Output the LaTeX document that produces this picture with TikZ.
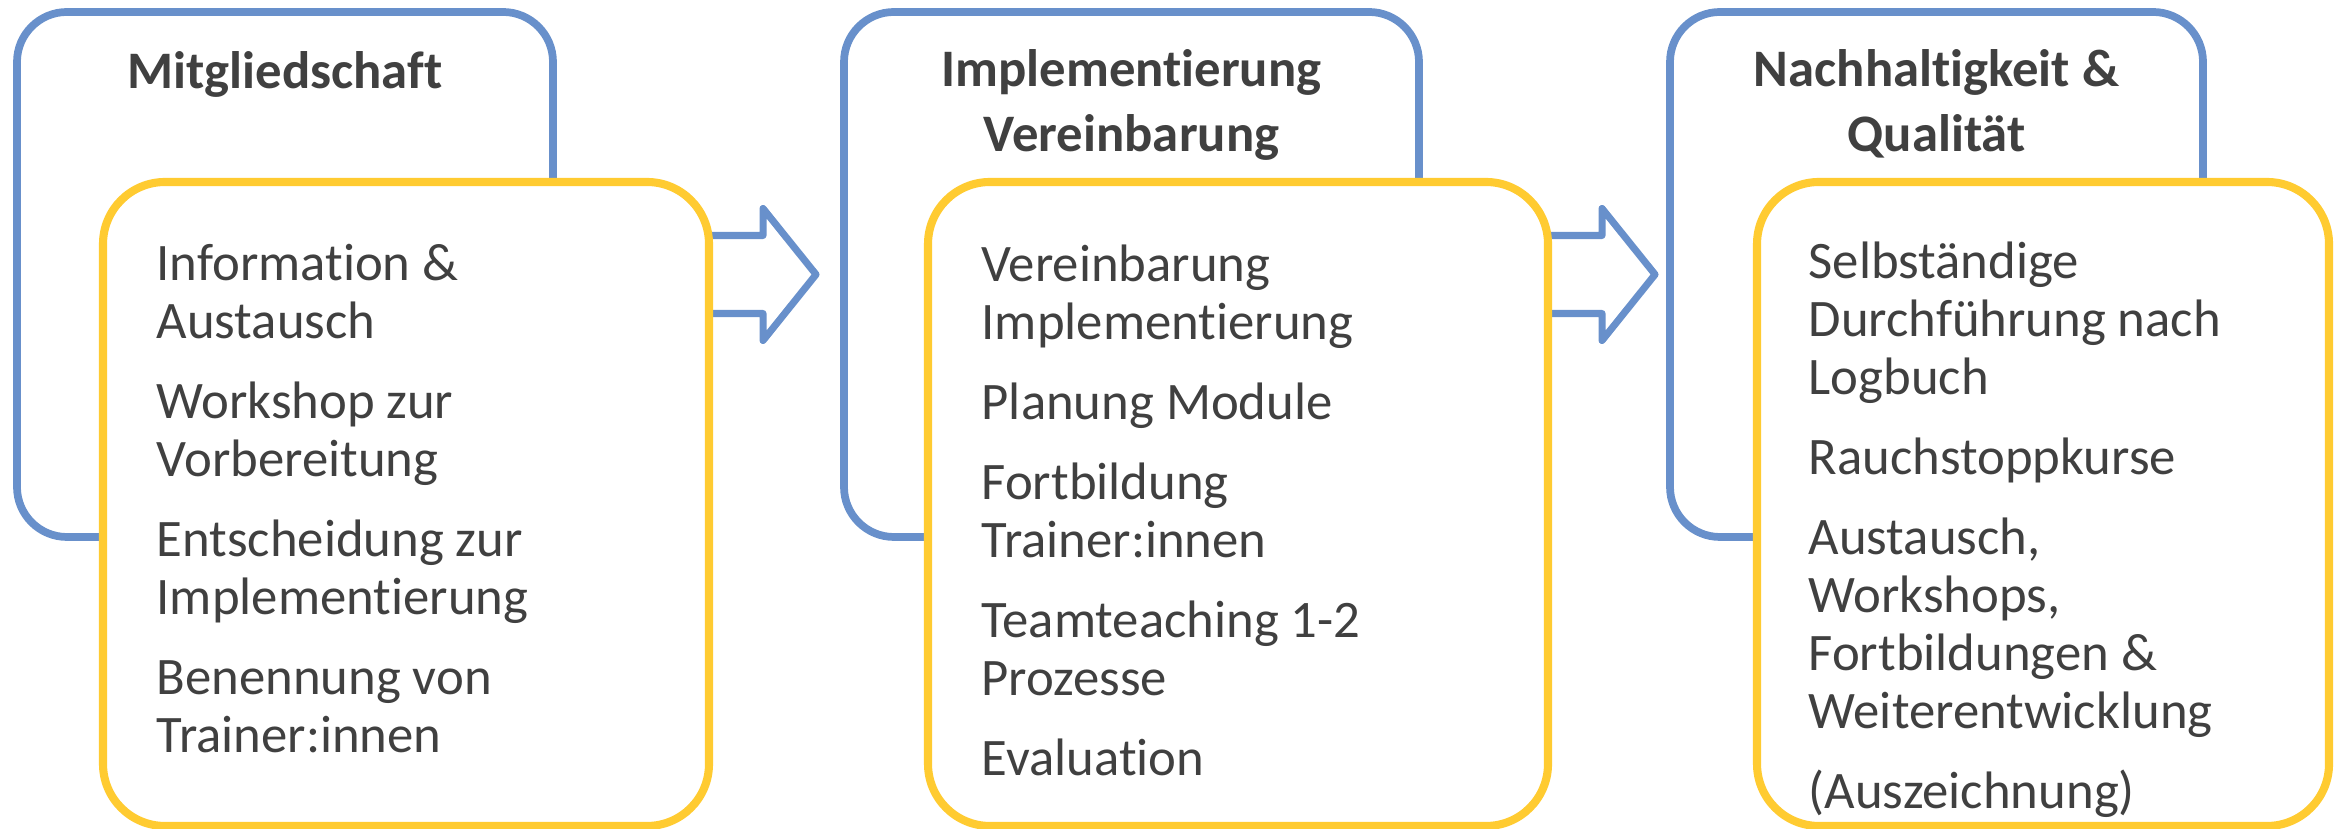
\documentclass[tikz,border=0pt]{standalone}
\usepackage{fontspec}
\setmainfont{Carlito}[Ligatures=NoCommon]
\usepackage{tikz}
\usetikzlibrary{calc,backgrounds}
\definecolor{rahmenblau}{HTML}{6890CB}
\definecolor{rahmengelb}{HTML}{FFCB31}
\definecolor{textgrau}{HTML}{404040}

\begin{document}
\begin{tikzpicture}[
    phase/.style={draw=rahmenblau, line width=2.2pt, rounded corners=0.5cm, fill=white, inner sep=0pt, minimum height=5.25cm},
    inhalt/.style={draw=rahmengelb, line width=2.3pt, rounded corners=0.62cm, fill=white, inner sep=0pt, minimum height=6.44cm},
    pfeil/.style={draw=rahmenblau, line width=2pt, line join=round, fill=white},
    titel/.style={anchor=base, align=center, inner sep=0pt, text=textgrau, font=\fontsize{15}{18.5}\selectfont\bfseries},
    liste/.style={anchor=base west, align=left, inner sep=0pt, text=textgrau, font=\fontsize{15}{16.5}\selectfont}
  ]
  \useasboundingbox (0,0) rectangle (23.44,8.29);
  % blaue Rahmen
  \node[phase, minimum width=5.36cm] (mitglied) at (2.85,5.545) {};
  \node[phase, minimum width=5.75cm] (implement) at (11.315,5.545) {};
  \node[phase, minimum width=5.33cm] (nachhalt) at (19.365,5.545) {};
  % base = letzte Zeile
  \node[titel] (t1) at ($(mitglied.north)+(0,-0.8)$) {Mitgliedschaft};
  \node[titel] (t2) at ($(implement.north)+(0,-1.43)$) {Implementierung\\Vereinbarung};
  \node[titel] (t3) at ($(nachhalt.north)+(0,-1.43)$) {Nachhaltigkeit \&\\Qualität};
  % gelbe Kaesten
  \node[inhalt, minimum width=6.06cm] (info) at (4.06,3.25) {};
  \node[inhalt, minimum width=6.20cm] (planung) at (12.38,3.25) {};
  \node[inhalt, minimum width=5.72cm] (kurse) at (20.43,3.25) {};
  \node[liste] (l1) at ($(info.north west)+(0.57,-5.75)$) {Information \&\\Austausch\\[6.3pt]
    Workshop zur\\Vorbereitung\\[6.3pt]
    Entscheidung zur\\Implementierung\\[6.3pt]
    Benennung von\\Trainer:innen};
  \node[liste] (l2) at ($(planung.north west)+(0.57,-5.98)$) {Vereinbarung\\Implementierung\\[6.3pt]
    Planung Module\\[6.3pt]
    Fortbildung\\Trainer:innen\\[6.3pt]
    Teamteaching 1-2\\Prozesse\\[6.3pt]
    Evaluation};
  \node[liste] (l3) at ($(kurse.north west)+(0.55,-6.31)$) {Selbständige\\Durchführung nach\\Logbuch\\[6.3pt]
    Rauchstoppkurse\\[6.3pt]
    Austausch,\\Workshops,\\Fortbildungen \&\\Weiterentwicklung\\[6.3pt]
    (Auszeichnung)};
  % Pfeile
  \begin{scope}[on background layer]
    \foreach \von/\rahmen in {info/mitglied, planung/implement} {
      \coordinate (p) at (\von.east |- \rahmen.east);
      \draw[pfeil] ($(p)+(-0.2,0.39)$) -- ($(p)+(0.5,0.39)$) -- ($(p)+(0.5,0.66)$)
        -- ($(p)+(1.03,0)$) -- ($(p)+(0.5,-0.66)$) -- ($(p)+(0.5,-0.39)$)
        -- ($(p)+(-0.2,-0.39)$) -- cycle;
    }
  \end{scope}
\end{tikzpicture}
\end{document}
